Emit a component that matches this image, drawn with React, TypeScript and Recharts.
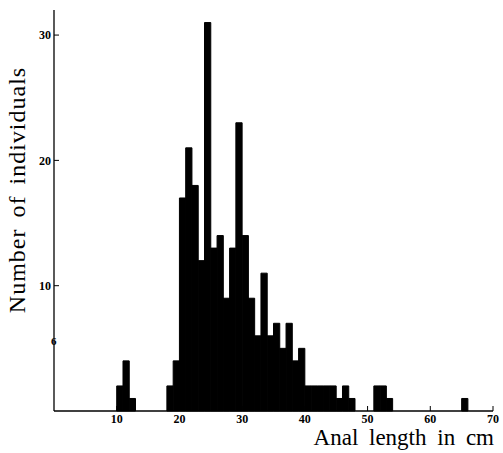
import React from "react";
import { BarChart, Bar, XAxis, YAxis } from "recharts";

// histogram bins (1 cm wide, value = left edge of the bin)
const binStarts = [10, 11, 12, 18, 19, 20, 21, 22, 23, 24, 25, 26, 27, 28, 29, 30, 31, 32, 33, 34, 35, 36, 37, 38, 39, 40, 41, 42, 43, 44, 45, 46, 47, 51, 52, 53, 65];
const counts = [2, 4, 1, 2, 4, 17, 21, 18, 12, 31, 13, 14, 9, 13, 23, 14, 9, 6, 11, 6, 7, 5, 7, 4, 5, 2, 2, 2, 2, 2, 1, 2, 1, 2, 2, 1, 1];
const xTicks = [10, 20, 30, 40, 50, 60, 70];
const yTicks = [10, 20, 30];

const X_MAX = 70;
const Y_MAX = 32;

const W = 503;
const H = 453;
const MARGIN = { top: 10, right: 10, left: 24, bottom: 12 };
const Y_AXIS_W = 30;
const X_AXIS_H = 30;
const PLOT_W = W - MARGIN.left - MARGIN.right - Y_AXIS_W;

const data = binStarts.map((s, i) => ({ mid: s + 0.5, count: counts[i] }));

const tickFont = { fontFamily: "'Liberation Serif', serif", fontWeight: 700, fontSize: 12, fill: "#000" };

export default function App() {
  return (
    <div style={{ position: "relative", width: W, height: H, background: "#fff" }}>
      <style>{"body{margin:0}"}</style>
      <BarChart width={W} height={H} data={data} margin={MARGIN}>
        <XAxis
          dataKey="mid"
          type="number"
          domain={[0, X_MAX]}
          ticks={xTicks}
          height={X_AXIS_H}
          tickSize={-5}
          tickMargin={8}
          tick={tickFont}
          axisLine={{ stroke: "#000", strokeWidth: 1.3 }}
          tickLine={{ stroke: "#000" }}
          interval={0}
        />
        <YAxis
          type="number"
          domain={[0, Y_MAX]}
          ticks={yTicks}
          width={Y_AXIS_W}
          tickSize={-5}
          tickMargin={8}
          tick={tickFont}
          axisLine={{ stroke: "#000", strokeWidth: 1.3 }}
          tickLine={{ stroke: "#000" }}
          interval={0}
        />
        {/* just under one bin wide (recharts shrinks bars >= band to 90%), stroke closes the seams */}
        <Bar
          dataKey="count"
          fill="#000"
          stroke="#000"
          strokeWidth={1}
          barSize={PLOT_W / X_MAX - 0.02}
          isAnimationActive={false}
        />
      </BarChart>
      <div
        style={{
          position: "absolute",
          left: 17,
          top: 190,
          transform: "translate(-50%, -50%) rotate(-90deg)",
          whiteSpace: "nowrap",
          fontFamily: "'Liberation Serif', serif",
          fontSize: 24,
          letterSpacing: 1,
          wordSpacing: 4,
          color: "#000",
        }}
      >
        Number of individuals
      </div>
      <div
        style={{
          position: "absolute",
          right: 9,
          top: 425,
          whiteSpace: "nowrap",
          fontFamily: "'Liberation Serif', serif",
          fontSize: 23,
          lineHeight: "26px",
          wordSpacing: 5,
          color: "#000",
        }}
      >
        Anal length in cm
      </div>
      <div
        style={{
          position: "absolute",
          left: 51,
          top: 335,
          fontFamily: "'Liberation Serif', serif",
          fontWeight: 700,
          fontSize: 11,
          color: "#000",
        }}
      >
        6
      </div>
    </div>
  );
}
